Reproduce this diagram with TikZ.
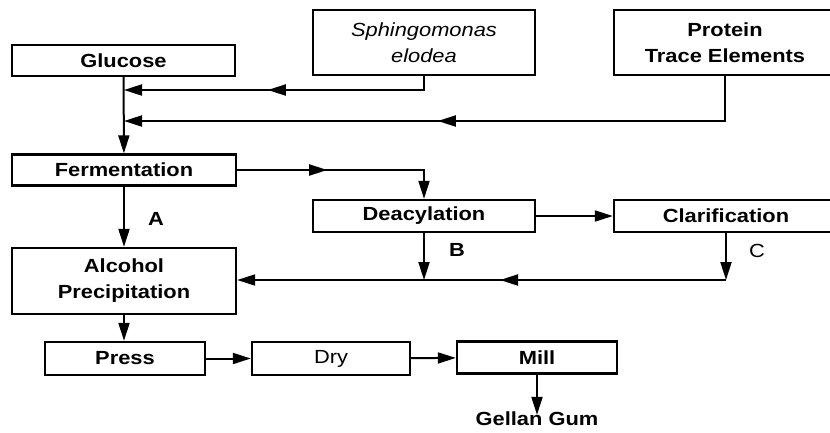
\documentclass[tikz,border=0pt]{standalone}
\usepackage{fontspec}
\setmainfont{Liberation Sans}[FakeStretch=1.15]
\usetikzlibrary{arrows.meta,positioning,calc,decorations.markings}
\newcommand\flowfont{\fontsize{19}{26}\selectfont}

\begin{document}
\begin{tikzpicture}[x=1pt,y=-1pt,
    box/.style={draw,line width=2.4pt,inner sep=0pt,align=center,font=\flowfont\bfseries},
    arr/.style={line width=2pt,-{Triangle[length=18pt,width=11pt]}},
    midarr/.style={postaction={decorate},decoration={markings,
      mark=at position #1 with {\arrow{Triangle[length=18pt,width=11pt]}}}},
    lbl/.style={inner sep=0pt,font=\flowfont\bfseries}]
  \clip (0,0) rectangle (830,432);
  % inputs
  \node[box,minimum width=223pt,minimum height=31pt] (glu) at (123.5,60.5) {Glucose};
  \node[box,minimum width=222pt,minimum height=65pt,font=\flowfont\itshape] (sph) at (424,42.5) {Sphingomonas\\elodea};
  \node[box,minimum width=222pt,minimum height=65pt] (prot) at (725,42.5) {Protein\\Trace Elements};
  % process
  \node[box,minimum width=224pt,minimum height=31pt] (ferm) at (124,170) {Fermentation};
  \node[box,minimum width=222pt,minimum height=32pt] (deac) at (424,216) {Deacylation};
  \node[box,minimum width=224pt,minimum height=32pt] (clar) at (726,216) {Clarification};
  \node[box,minimum width=224pt,minimum height=66pt] (alc) at (124,281) {Alcohol\\Precipitation};
  \node[box,minimum width=160pt,minimum height=33pt] (press) at (125,358.5) {Press};
  \node[box,minimum width=158pt,minimum height=33pt,font=\flowfont] (dry) at (331,358.5) {Dry};
  \node[box,minimum width=160pt,minimum height=32pt] (mill) at (537,357.5) {Mill};
  \node[lbl] (gel) at (537,419) {Gellan Gum};
  % labels
  \node[lbl] (la) at (156,219) {A};
  \node[lbl] (lb) at (457,250) {B};
  \node[lbl,font=\flowfont] (lc) at (757,251) {C};
  % feed lines
  \coordinate (j1) at (124,90);
  \coordinate (j2) at (124,121);
  \draw[arr,midarr=170pt] (sph.south) |- (j1);
  \draw[arr,midarr=332pt] (prot.south) |- (j2);
  \draw[arr] (glu) -- (ferm);
  % branches
  \draw[arr,midarr=90pt] (ferm.east) -| (deac.north);
  \draw[arr] (deac) -- (clar);
  \draw[arr] (ferm) -- (alc);
  \coordinate (jb) at (424,280);
  \coordinate (jc) at (726,280);
  \draw[arr] (deac.south) -- (jb);
  \draw[arr] (clar.south) -- (jc);
  \draw[arr,midarr=226pt] (jc) -- (alc.east |- jc);
  % finishing
  \draw[arr] (alc.south) -- (alc.south |- press.north);
  \draw[arr] (press) -- (dry);
  \draw[arr] (dry) -- (mill);
  \draw[arr] (mill) -- ([yshift=-3pt]gel.north);
\end{tikzpicture}
\end{document}
